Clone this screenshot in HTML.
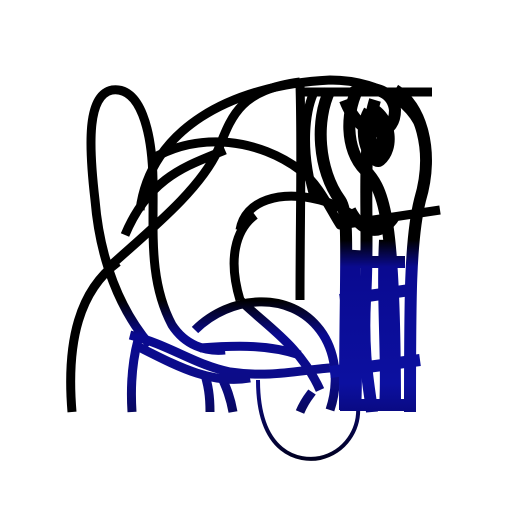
<!DOCTYPE html>
<html><head><meta charset="utf-8"><style>html,body{margin:0;padding:0;background:#fff;width:512px;height:512px;overflow:hidden}</style></head>
<body>
<svg width="512" height="512" viewBox="0 0 512 512" xmlns="http://www.w3.org/2000/svg">
<defs>
<linearGradient id="g" gradientUnits="userSpaceOnUse" x1="0" y1="300" x2="0" y2="460">
<stop offset="0" stop-color="#000"/>
<stop offset="0.22" stop-color="#0a0a90"/>
<stop offset="0.5" stop-color="#0c0c88"/>
<stop offset="1" stop-color="#000020"/>
</linearGradient>
<linearGradient id="r" gradientUnits="userSpaceOnUse" x1="0" y1="240" x2="0" y2="420">
<stop offset="0" stop-color="#000"/>
<stop offset="0.15" stop-color="#0a0a90"/>
<stop offset="0.8" stop-color="#0c10a0"/>
<stop offset="1" stop-color="#08087a"/>
</linearGradient>
</defs>
<g fill="none" stroke="url(#g)" stroke-width="9" stroke-linecap="butt" stroke-linejoin="round">
<path stroke="#000" d="M72,412 C66,340 80,290 118,262"/>
<path d="M150,345 C120,310 100,260 95,200 C88,140 88,95 112,90 C140,86 152,130 153,180 C154,230 148,280 172,325 C185,345 205,352 225,350"/>
<path d="M108,268 C150,230 200,190 218,150 C232,115 240,90 300,82"/>
<path d="M140,210 C150,130 230,85 330,80 C385,80 425,110 425,150"/>
<path d="M150,160 C200,130 260,140 300,170 C320,185 330,210 340,225 L440,210"/>
<path d="M125,235 C150,175 190,165 225,150"/>
<path d="M240,230 C245,200 280,190 320,200 C340,205 350,215 355,215"/>
<path d="M240,300 C228,260 235,230 255,215"/>
<path d="M300,92 L432,92"/>
<path d="M195,330 C230,295 290,290 320,330 C335,350 340,380 330,410"/>
<path d="M240,300 C265,325 300,345 320,390"/>
<path d="M130,335 C170,345 195,365 230,372 C270,378 300,370 330,368"/>
<path d="M135,345 C175,365 210,385 250,378"/>
<path d="M200,348 C240,345 270,345 300,355"/>
<path d="M132,412 C130,380 134,355 138,340"/>
<path d="M210,412 C210,395 208,385 205,375"/>
<path d="M233,412 C230,395 225,385 222,378"/>
<path d="M300,412 C305,400 310,395 312,392"/>
<path stroke-width="4" d="M258,380 C258,455 300,462 320,458 C345,452 360,430 358,405"/>
<path d="M300,85 C302,150 300,220 300,300"/>
<path d="M315,200 C300,150 305,110 315,90"/>
</g>
<g fill="none" stroke="url(#r)" stroke-width="12" stroke-linejoin="round">
<path d="M330,90 C315,120 318,170 340,200 C350,215 345,260 345,410"/>
<path d="M360,85 C345,110 345,150 365,170 C385,190 395,220 395,410"/>
<path d="M395,90 C420,105 435,150 420,200 C410,240 410,300 410,412"/>
<path d="M375,100 C360,150 370,220 365,300 C362,360 370,390 372,412"/>
<path d="M345,100 C360,140 395,140 395,110 C392,85 360,85 350,95"/>
<path d="M355,250 C352,300 358,360 355,410"/>
<path d="M385,240 C382,300 388,360 385,410"/>
<path d="M345,262 L405,262 M340,300 L410,290 M330,372 L420,360"/>
<path d="M340,405 L412,405"/>
<path stroke-width="18" d="M372,112 C362,130 368,152 378,158 C390,148 388,122 372,112"/>
<path d="M350,210 C360,230 380,240 395,215"/>
</g>
</svg>
</body></html>
